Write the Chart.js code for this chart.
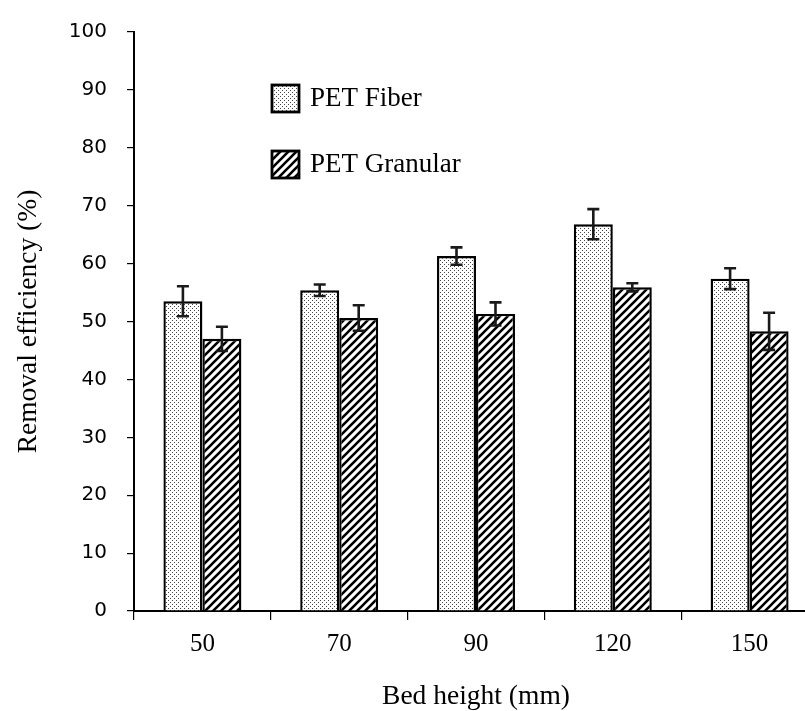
<!DOCTYPE html>
<html>
<head>
<meta charset="utf-8">
<script src="https://cdn.jsdelivr.net/npm/chart.js@4/dist/chart.umd.min.js"></script>
<style>
  html, body { margin: 0; padding: 0; background: #fff; overflow: hidden; }
  #wrap { width: 830px; height: 711px; }
</style>
</head>
<body>
<div id="wrap"><canvas id="c" width="830" height="711"></canvas></div>
<script>
// ---- data ----
const categories = ['50', '70', '90', '120', '150'];
const seriesNames = ['PET Fiber', 'PET Granular'];
const fiberValues = [53.5, 55.4, 61.3, 66.8, 57.4];
const fiberErrors = [2.6, 1.0, 1.5, 2.6, 1.8];
const granularValues = [47.0, 50.6, 51.3, 55.9, 48.3];
const granularErrors = [2.1, 2.2, 2.0, 0.7, 3.2];
const yTicks = [0, 10, 20, 30, 40, 50, 60, 70, 80, 90, 100];

// ---- patterns ----
function dotPattern() {
  const c = document.createElement('canvas');
  c.width = 4; c.height = 4;
  const g = c.getContext('2d');
  g.fillStyle = '#fff'; g.fillRect(0, 0, 4, 4);
  g.fillStyle = '#444';
  g.fillRect(0, 0, 1, 1);
  g.fillRect(2, 2, 1, 1);
  return g.createPattern(c, 'repeat');
}
function hatchPattern() {
  const s = 8;
  const c = document.createElement('canvas');
  c.width = s; c.height = s;
  const g = c.getContext('2d');
  g.fillStyle = '#fff'; g.fillRect(0, 0, s, s);
  g.strokeStyle = '#000'; g.lineWidth = 2.6; g.lineCap = 'square';
  g.beginPath();
  g.moveTo(-1, s + 1); g.lineTo(s + 1, -1);
  g.moveTo(-1 - s, s + 1); g.lineTo(1, -1);
  g.moveTo(s - 1, s + 1); g.lineTo(2 * s + 1, -1);
  g.stroke();
  return g.createPattern(c, 'repeat');
}
const fiberFill = dotPattern();
const granularFill = hatchPattern();

// ---- error bars plugin (uses chart scales) ----
const errorBars = {
  id: 'errorBars',
  afterDatasetsDraw(chart) {
    const ctx = chart.ctx;
    const y = chart.scales.y;
    ctx.save();
    ctx.strokeStyle = '#1a1a1a';
    ctx.lineWidth = 2.6;
    chart.data.datasets.forEach((ds, di) => {
      const meta = chart.getDatasetMeta(di);
      meta.data.forEach((bar, i) => {
        const v = ds.data[i], e = ds.errors[i];
        const x = bar.x;
        const yt = y.getPixelForValue(v + e);
        const yb = y.getPixelForValue(v - e);
        const cw = 6;
        ctx.beginPath();
        ctx.moveTo(x, yt); ctx.lineTo(x, yb);
        ctx.moveTo(x - cw, yt); ctx.lineTo(x + cw, yt);
        ctx.moveTo(x - cw, yb); ctx.lineTo(x + cw, yb);
        ctx.stroke();
      });
    });
    ctx.restore();
  }
};

// ---- in-plot legend plugin ----
const innerLegend = {
  id: 'innerLegend',
  afterDraw(chart) {
    const ctx = chart.ctx;
    const items = [
      { x: 272, y: 85 },
      { x: 272, y: 151 }
    ];
    const box = 27;
    ctx.save();
    chart.data.datasets.forEach((ds, i) => {
      const p = items[i];
      ctx.fillStyle = ds.backgroundColor;
      ctx.fillRect(p.x, p.y, box, box);
      ctx.strokeStyle = '#000';
      ctx.lineWidth = 2.8;
      ctx.strokeRect(p.x, p.y, box, box);
      ctx.fillStyle = '#000';
      ctx.font = '27px "Liberation Serif", "Times New Roman", serif';
      ctx.textBaseline = 'middle';
      ctx.textAlign = 'left';
      ctx.fillText(ds.label, p.x + box + 11, p.y + box / 2);
    });
    ctx.restore();
  }
};

new Chart(document.getElementById('c'), {
  type: 'bar',
  data: {
    labels: categories,
    datasets: [
      { label: seriesNames[0], data: fiberValues, errors: fiberErrors,
        backgroundColor: fiberFill, borderColor: '#000', borderWidth: 2.4 },
      { label: seriesNames[1], data: granularValues, errors: granularErrors,
        backgroundColor: granularFill, borderColor: '#000', borderWidth: 2.4 }
    ]
  },
  options: {
    responsive: false,
    animation: false,
    devicePixelRatio: 1,
    layout: { padding: { top: 24, right: 12, bottom: 0, left: 0 } },
    plugins: { legend: { display: false }, tooltip: { enabled: false } },
    datasets: { bar: { barPercentage: 1.0, categoryPercentage: 0.57 } },
    scales: {
      x: {
        afterFit(s) { s.height = 100; },
        grid: { offset: true, drawOnChartArea: false, drawTicks: true, tickLength: 9, color: '#000', lineWidth: 1.2 },
        border: { display: true, color: '#000', width: 2 },
        ticks: { color: '#000', padding: 9, font: { family: '"Liberation Serif", "Times New Roman", serif', size: 25 } },
        title: { display: true, text: 'Bed height (mm)', color: '#000', padding: { top: 0, bottom: 0 },
                 font: { family: '"Liberation Serif", "Times New Roman", serif', size: 27.5, lineHeight: 1 } }
      },
      y: {
        min: 0, max: 100,
        afterFit(s) { s.width = 134; },
        afterBuildTicks(s) { s.ticks = yTicks.map(v => ({ value: v })); },
        grid: { drawOnChartArea: false, drawTicks: true, tickLength: 7, color: '#000', lineWidth: 1.2 },
        border: { display: true, color: '#000', width: 2 },
        ticks: { color: '#000', padding: 20, font: { family: '"DejaVu Sans", sans-serif', size: 20 } },
        title: { display: true, text: 'Removal efficiency (%)', color: '#000', padding: { top: 15, bottom: 0 },
                 font: { family: '"Liberation Serif", "Times New Roman", serif', size: 27.5, lineHeight: 1 } }
      }
    }
  },
  plugins: [errorBars, innerLegend]
});
</script>
</body>
</html>
